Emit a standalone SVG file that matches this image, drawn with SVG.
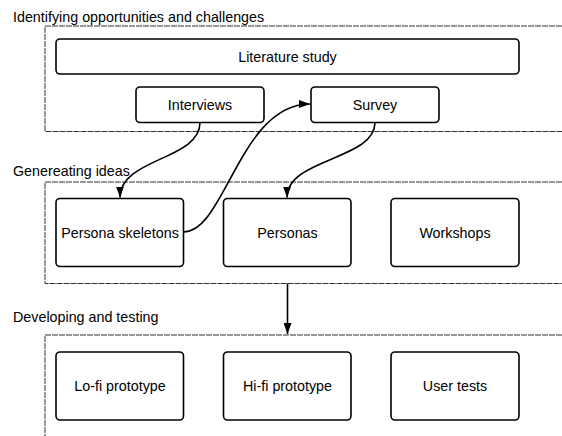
<svg xmlns="http://www.w3.org/2000/svg" width="562" height="436" viewBox="0 0 562 436">
  <style>
    .lane { fill: none; stroke: #333; stroke-width: 1; stroke-dasharray: 6 1; }
    .lane-title { font-family: "Liberation Sans", Arial, sans-serif; font-size: 14.3px; fill: #000; }
    .box { fill: #fff; stroke: #000; stroke-width: 1.6; }
    .label { font-family: "Liberation Sans", Arial, sans-serif; font-size: 14.3px; fill: #000; text-anchor: middle; dominant-baseline: central; }
    .edge { fill: none; stroke: #000; stroke-width: 1.6; marker-end: url(#head); }
  </style>
  <defs>
    <marker id="head" viewBox="0 0 11 8" refX="11" refY="4" markerWidth="11" markerHeight="8" markerUnits="userSpaceOnUse" orient="auto">
      <path d="M0,0 L11,4 L0,8 Z" fill="#000"/>
    </marker>
  </defs>
  <rect width="562" height="436" fill="#fff"/>

  <!-- Phase lanes -->
  <g id="lane-identify">
    <path class="lane" d="M562,26 H45 V131.5 H562"/>
    <text class="lane-title" x="13" y="21.5">Identifying opportunities and challenges</text>
  </g>
  <g id="lane-generate">
    <path class="lane" d="M562,182 H45 V283.5 H562"/>
    <text class="lane-title" x="13" y="175.5">Genereating ideas</text>
  </g>
  <g id="lane-develop">
    <path class="lane" d="M562,335 H45 V436"/>
    <text class="lane-title" x="13" y="322">Developing and testing</text>
  </g>

  <!-- Activities -->
  <g id="literature-study">
    <rect class="box" x="56" y="39" width="463" height="35" rx="4"/>
    <text class="label" x="287.5" y="56.5">Literature study</text>
  </g>
  <g id="interviews">
    <rect class="box" x="136" y="87" width="128" height="35.5" rx="4"/>
    <text class="label" x="200" y="104.5">Interviews</text>
  </g>
  <g id="survey">
    <rect class="box" x="311" y="87" width="128" height="35.5" rx="4"/>
    <text class="label" x="375" y="104.5">Survey</text>
  </g>
  <g id="persona-skeletons">
    <rect class="box" x="56" y="198.5" width="127.5" height="68" rx="4"/>
    <text class="label" x="120" y="232.5">Persona skeletons</text>
  </g>
  <g id="personas">
    <rect class="box" x="223.5" y="198.5" width="127.5" height="68" rx="4"/>
    <text class="label" x="287.5" y="232.5">Personas</text>
  </g>
  <g id="workshops">
    <rect class="box" x="391" y="198.5" width="128" height="68" rx="4"/>
    <text class="label" x="455" y="232.5">Workshops</text>
  </g>
  <g id="lofi-prototype">
    <rect class="box" x="56" y="352" width="127.5" height="68" rx="4"/>
    <text class="label" x="120" y="386">Lo-fi prototype</text>
  </g>
  <g id="hifi-prototype">
    <rect class="box" x="223.5" y="352" width="127.5" height="68" rx="4"/>
    <text class="label" x="287.5" y="386">Hi-fi prototype</text>
  </g>
  <g id="user-tests">
    <rect class="box" x="391" y="352" width="128" height="68" rx="4"/>
    <text class="label" x="455" y="386">User tests</text>
  </g>

  <!-- Connectors -->
  <g id="connectors">
    <path class="edge" d="M200,122.5 C200,160 120,158 120,197.5"/>
    <path class="edge" d="M183.5,232 C225,232 240,104 310,104"/>
    <path class="edge" d="M375,122.5 C375,160 287,158 287,197.5"/>
    <path class="edge" d="M287.5,283.5 V334"/>
  </g>
</svg>
